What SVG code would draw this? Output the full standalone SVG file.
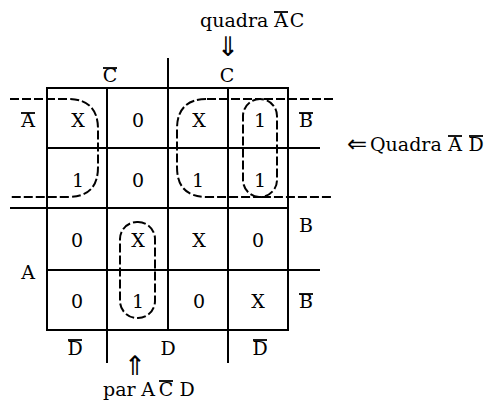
<svg xmlns="http://www.w3.org/2000/svg" width="485" height="407" viewBox="0 0 485 407">
<style>
.g{stroke:#000;stroke-width:2;fill:none}
.d{stroke:#000;stroke-width:2;fill:none;stroke-dasharray:9 3}
.o{stroke:#000;stroke-width:1.8}
text{font-family:"DejaVu Serif","Liberation Serif",serif;font-size:19px;fill:#000;text-anchor:middle}
.ar{font-family:"DejaVu Sans","Liberation Sans",sans-serif;font-size:24px}
.av{font-family:"DejaVu Sans","Liberation Sans",sans-serif;font-size:27px}
</style>
<rect width="485" height="407" fill="#fff"/>
<g id="grid">
<rect class="g" x="47" y="88" width="241" height="242"/>
<line class="g" x1="107" y1="88" x2="107" y2="363"/>
<line class="g" x1="168" y1="58" x2="168" y2="330"/>
<line class="g" x1="228" y1="88" x2="228" y2="363"/>
<line class="g" x1="47" y1="148" x2="320" y2="148"/>
<line class="g" x1="10" y1="208" x2="288" y2="208"/>
<line class="g" x1="47" y1="270" x2="320" y2="270"/>
</g>
<g id="loops">
<path class="d" d="M10,99 H68 Q98,99 98,129 V167 Q98,197 68,197 H10"/>
<path class="d" d="M333,99 H260 A17,17 0 0 0 243,116 V180 A17,17 0 0 0 260,197 H333"/>
<path class="d" d="M207,99 H260 A17,17 0 0 1 277,116 V180 A17,17 0 0 1 260,197 H207 Q177,197 177,167 V129 Q177,99 207,99 Z"/>
<rect class="d" x="120" y="222" width="35" height="96" rx="17"/>
</g>
<g id="cells">
<text x="78" y="127">X</text><text x="138" y="127">0</text><text x="199" y="127">X</text><text x="260" y="127">1</text>
<text x="78" y="187">1</text><text x="138" y="187">0</text><text x="198" y="187">1</text><text x="260" y="187">1</text>
<text x="77" y="247">0</text><text x="138" y="247">X</text><text x="199" y="247">X</text><text x="258" y="247">0</text>
<text x="77" y="308">0</text><text x="138" y="308">1</text><text x="199" y="308">0</text><text x="258" y="308">X</text>
</g>
<g id="labels">
<text x="110" y="82">C</text><line class="o" x1="103" y1="68" x2="117" y2="68"/>
<text x="227" y="82">C</text>
<text x="28" y="127">A</text><line class="o" x1="21" y1="113" x2="35" y2="113"/>
<text x="28" y="279">A</text>
<text x="306" y="127">B</text><line class="o" x1="299" y1="113" x2="313" y2="113"/>
<text x="306" y="232">B</text>
<text x="306" y="308">B</text><line class="o" x1="299" y1="294" x2="313" y2="294"/>
<text x="75" y="355">D</text><line class="o" x1="68" y1="340" x2="82" y2="340"/>
<text x="168" y="355">D</text>
<text x="260" y="355">D</text><line class="o" x1="253" y1="340" x2="267" y2="340"/>
</g>
<g id="note-top">
<text x="200" y="27" style="text-anchor:start">quadra</text>
<text x="281" y="27">A</text><line class="o" x1="274" y1="12" x2="288" y2="12"/>
<text x="297" y="27">C</text>
<text class="av" x="228" y="56">⇓</text>
</g>
<g id="note-right">
<text class="ar" x="357" y="152">⇐</text>
<text x="370" y="151" style="text-anchor:start">Quadra</text>
<text x="455" y="151">A</text><line class="o" x1="448" y1="136" x2="462" y2="136"/>
<text x="476" y="151">D</text><line class="o" x1="469" y1="136" x2="483" y2="136"/>
</g>
<g id="note-bottom">
<text class="av" x="135" y="375">⇑</text>
<text x="103" y="396" style="text-anchor:start">par</text>
<text x="148" y="396">A</text>
<text x="166" y="396">C</text><line class="o" x1="159" y1="381" x2="173" y2="381"/>
<text x="187" y="396">D</text>
</g>
</svg>
